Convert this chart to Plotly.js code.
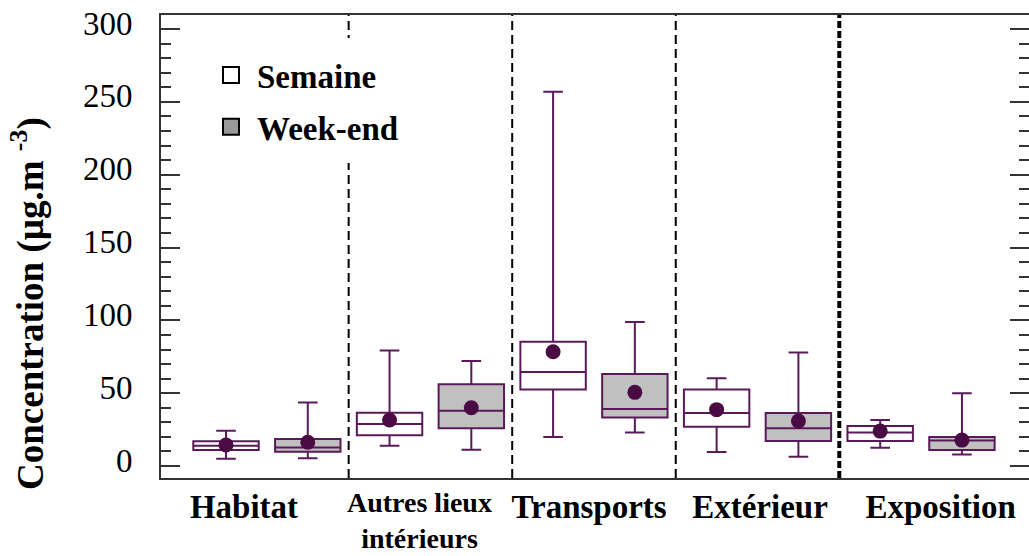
<!DOCTYPE html>
<html>
<head>
<meta charset="utf-8">
<script src="https://cdn.plot.ly/plotly-3.0.1.min.js"></script>
<style>html,body{margin:0;padding:0;background:#fff;}#chart{width:1029px;height:556px;}</style>
</head>
<body>
<div id="chart"></div>
<script>
// ---- data ----
const categories = ['Habitat', 'Autres lieux<br>intérieurs', 'Transports', 'Extérieur', 'Exposition'];
const seriesNames = ['Semaine', 'Week-end'];

const semLow  = [5.0, 13.9, 19.9, 9.6, 12.6];
const semQ1   = [11.0, 21.1, 52.6, 27.0, 17.2];
const semMed  = [14.0, 28.8, 64.5, 36.4, 23.1];
const semQ3   = [17.0, 36.6, 85.3, 52.6, 27.5];
const semUp   = [24.2, 79.4, 257.0, 60.2, 31.6];
const semMean = [14.4, 31.6, 78.5, 38.7, 24.0];

const weLow  = [5.3, 11.2, 23.1, 6.4, 8.0];
const weQ1   = [9.8, 25.9, 33.4, 17.2, 11.0];
const weMed  = [12.8, 38.0, 39.1, 25.9, 17.6];
const weQ3   = [18.5, 56.1, 63.2, 36.4, 19.9];
const weUp   = [43.7, 72.1, 98.9, 78.0, 49.9];
const weMean = [16.3, 40.0, 50.6, 30.9, 17.8];

const yTicks = [0, 50, 100, 150, 200, 250, 300];

// ---- layout helpers ----
const boxLine = '#5a1a5a';
const dotColor = '#4a0a44';
const FONT = 'Liberation Serif, Times New Roman, serif';
const semX = categories.map((c, i) => 2 * i);
const weX = categories.map((c, i) => 2 * i + 1);
const labelNudge = [-0.28, -0.13, -0.06, 0.03, 0.24];
const labelX = categories.map((c, i) => 2 * i + 0.5 + labelNudge[i]);
// two-line category is drawn as an annotation (tighter fit at the bottom edge)
const twoLine = categories.map(c => c.indexOf('<br>') >= 0);
const tickIdx = categories.map((c, i) => i).filter(i => !twoLine[i]);

function boxTrace(x, low, q1, med, q3, up, fill) {
  return {
    type: 'box', x: x, q1: q1, median: med, q3: q3, lowerfence: low, upperfence: up,
    width: 0.8, whiskerwidth: 0.3, fillcolor: fill,
    line: {color: boxLine, width: 2}, boxpoints: false, showlegend: false, hoverinfo: 'skip'
  };
}
function meanTrace(x, m) {
  return {type: 'scatter', mode: 'markers', x: x, y: m,
    marker: {color: dotColor, size: 15, symbol: 'circle'}, showlegend: false, hoverinfo: 'skip'};
}

const traces = [
  boxTrace(semX, semLow, semQ1, semMed, semQ3, semUp, '#ffffff'),
  boxTrace(weX, weLow, weQ1, weMed, weQ3, weUp, '#c0c0c0'),
  meanTrace(semX, semMean),
  meanTrace(weX, weMean),
  {type: 'scatter', mode: 'markers', x: [null], y: [null], name: '<b>' + seriesNames[0] + '</b>', legendgroup: 'a',
   marker: {symbol: 'square', size: 16, color: '#ffffff', line: {color: '#000', width: 2}}},
  {type: 'scatter', mode: 'markers', x: [null], y: [null], name: '<b>' + seriesNames[1] + '</b>', legendgroup: 'b',
   marker: {symbol: 'square', size: 16, color: '#999999', line: {color: '#000', width: 2}}}
];

const dividers = [1.5, 3.5, 5.5, 7.5];
const shapes = dividers.map((d, i) => ({
  type: 'line', xref: 'x', yref: 'paper', x0: d, x1: d, y0: 0, y1: 1, layer: 'above',
  line: i === 3 ? {color: '#000', width: 4, dash: '7px,3px'} : {color: '#000', width: 2, dash: '9px,5px'}
}));
// legend background
shapes.push({type: 'rect', xref: 'paper', yref: 'paper',
  x0: (200 - 161) / 868, x1: (425 - 161) / 868, y0: (478 - 163) / 463, y1: (478 - 38) / 463,
  fillcolor: '#ffffff', line: {width: 0}, layer: 'above'});

const annotations = [{
  xref: 'paper', yref: 'paper', x: (28 - 161) / 868, y: (478 - 304) / 463,
  xanchor: 'center', yanchor: 'middle', textangle: -90, showarrow: false,
  text: '<b>Concentration (µg.m <sup>-3</sup>)</b>', font: {family: FONT, size: 37, color: '#000'}
}];
categories.forEach((c, i) => {
  if (twoLine[i]) {
    annotations.push({xref: 'x', yref: 'paper', x: labelX[i], y: (478 - 556) / 463,
      xanchor: 'center', yanchor: 'bottom', showarrow: false, text: '<b>' + c + '</b>',
      font: {family: FONT, size: 28, color: '#000'}});
  }
});

const layout = {
  width: 1029, height: 556,
  margin: {l: 161, r: 0, t: 15, b: 78},
  paper_bgcolor: '#fff', plot_bgcolor: '#fff',
  font: {family: FONT, color: '#000'},
  showlegend: true,
  legend: {x: (205 - 161) / 868, y: (478 - 47) / 463, xanchor: 'left', yanchor: 'top',
    bgcolor: 'rgba(0,0,0,0)', font: {family: FONT, size: 33, color: '#000'},
    tracegroupgap: 6, itemwidth: 42},
  xaxis: {range: [-0.795, 9.82], showgrid: false, zeroline: false, showline: true, mirror: true,
    linecolor: '#333', linewidth: 2, ticks: '',
    tickvals: tickIdx.map(i => labelX[i]), ticktext: tickIdx.map(i => '<b>' + categories[i] + '</b>'),
    tickfont: {family: FONT, size: 33, color: '#000'}, ticklabelstandoff: -2, fixedrange: true},
  yaxis: {range: [-8.2, 309.6], showgrid: false, zeroline: false, showline: true, mirror: 'ticks',
    linecolor: '#333', linewidth: 2, ticks: 'inside', ticklen: 19, tickwidth: 2, tickcolor: '#333',
    tickvals: yTicks, ticktext: yTicks.map(String),
    minor: {dtick: 10, ticks: 'inside', ticklen: 10, tickwidth: 2, tickcolor: '#333', showgrid: false},
    tickfont: {family: FONT, size: 33, color: '#000'}, ticklabelstandoff: 20, ticklabelshift: -6,
    fixedrange: true},
  shapes: shapes,
  annotations: annotations
};

Plotly.newPlot('chart', traces, layout, {displayModeBar: false, staticPlot: true});
</script>
</body>
</html>
